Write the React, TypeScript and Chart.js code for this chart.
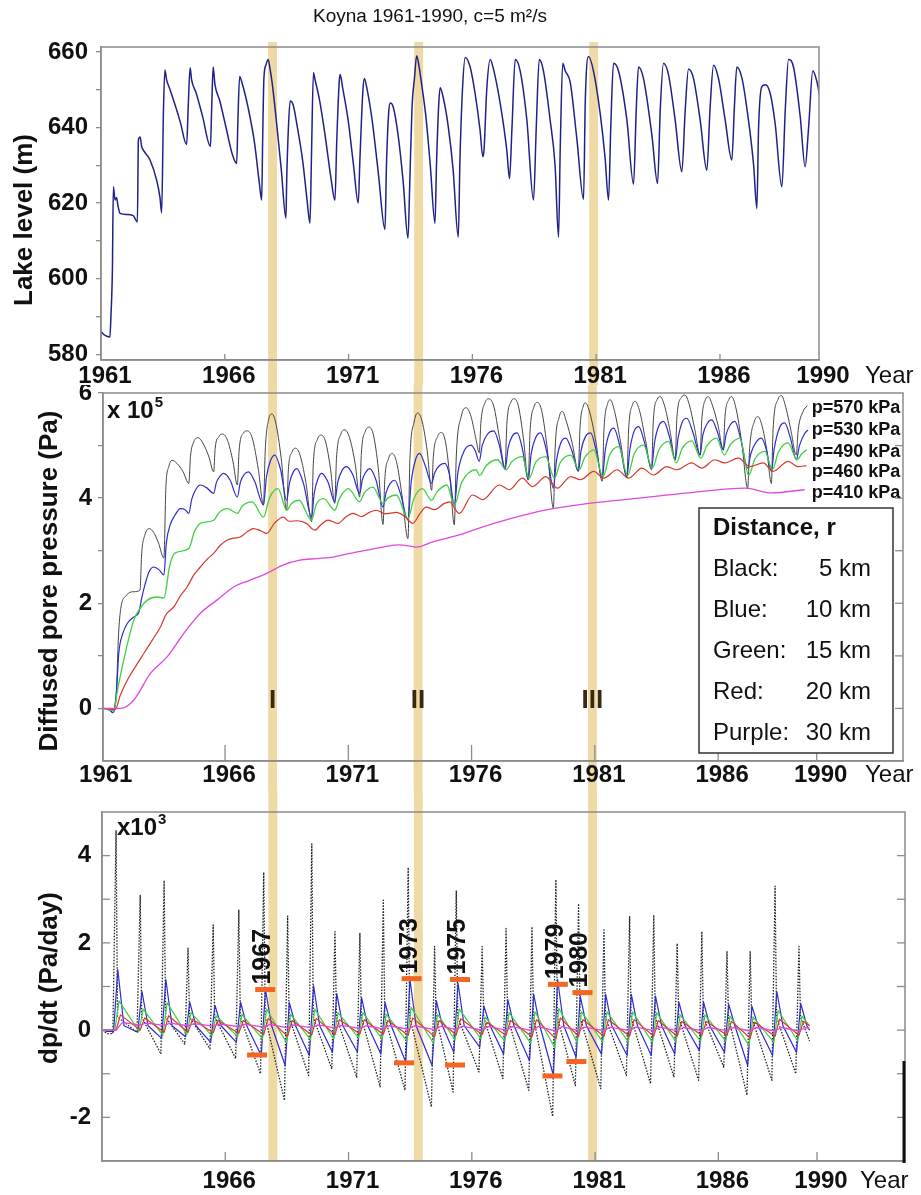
import React, { useEffect, useRef } from 'react';
import { Chart, registerables } from 'chart.js';

Chart.register(...registerables);

type Pt = [number, number];

// ---------------- text ----------------
const TITLE = 'Koyna 1961-1990, c=5 m\u00B2/s';
const lakeTitle = 'Lake level (m)';
const pressureTitle = 'Diffused pore pressure (Pa)';
const rateTitle = 'dp/dt (Pa/day)';
const yearWord = 'Year';

// ---------------- axes ----------------
const yearTicks = [1961, 1966, 1971, 1976, 1981, 1986, 1990];
const yearTicksBottom = [1966, 1971, 1976, 1981, 1986, 1990];
const lakeTicks = [580, 590, 600, 610, 620, 630, 640, 650, 660];
const lakeLabels = [580, 600, 620, 640, 660];
const pressureTicks = [0, 1, 2, 3, 4, 5, 6];
const pressureLabels = [0, 2, 4, 6];
const rateTicks = [-2, -1, 0, 1, 2, 3, 4];
const rateLabels = [-2, 0, 2, 4];

// ---------------- earthquake bands ----------------
const bandStart = [1967.75, 1973.65, 1980.72];
const bandEnd = [1968.11, 1974.01, 1981.08];
const bandNames = ['I', 'II', 'III'];
const bandNameValue = 0.15;

// ---------------- lake level (m) ----------------
const lakeLevel: Pt[] = [
  [1961.0, 586], [1961.16, 585], [1961.36, 584.6], [1961.4, 589.9], [1961.46, 602.3], [1961.5, 624.3], [1961.57, 620.8], [1961.63, 621.5], [1961.68, 619.5], [1961.77, 617.3], [1962.04, 617], [1962.3, 616.7], [1962.47, 615],
  [1962.51, 636.7], [1962.58, 637.5], [1962.64, 635], [1962.71, 634], [1962.98, 631.4], [1963.25, 626], [1963.38, 621.6], [1963.45, 617.4],
  [1963.52, 643.8], [1963.58, 655.2], [1963.65, 652.6], [1963.79, 650], [1963.99, 646], [1964.2, 641.5], [1964.46, 635.5],
  [1964.52, 645], [1964.6, 655.8], [1964.66, 652.6], [1964.85, 649], [1965.1, 643], [1965.42, 635],
  [1965.47, 645], [1965.53, 656], [1965.6, 651.5], [1965.8, 647], [1966.05, 640], [1966.3, 633], [1966.48, 630.5],
  [1966.53, 642], [1966.6, 653.5], [1966.7, 651.7], [1966.95, 645], [1967.2, 636], [1967.4, 625], [1967.49, 620.8],
  [1967.53, 637], [1967.58, 653], [1967.66, 656.5], [1967.75, 658], [1967.84, 655], [1967.92, 651.5], [1968.08, 642], [1968.28, 629], [1968.47, 616],
  [1968.5, 626], [1968.57, 640], [1968.64, 647], [1968.76, 646], [1968.92, 640.5], [1969.15, 631], [1969.32, 621], [1969.44, 614.7],
  [1969.5, 632], [1969.58, 654.5], [1969.65, 652.5], [1969.82, 647.5], [1970.05, 638], [1970.28, 627], [1970.45, 620.8],
  [1970.52, 636], [1970.62, 652], [1970.66, 654], [1970.76, 650.5], [1970.98, 642], [1971.2, 630], [1971.39, 620],
  [1971.46, 632], [1971.58, 650], [1971.64, 653], [1971.72, 651], [1971.95, 642], [1972.2, 628], [1972.47, 613],
  [1972.53, 630], [1972.62, 644], [1972.68, 646.5], [1972.8, 645.5], [1973.0, 638], [1973.2, 626], [1973.4, 610.7],
  [1973.47, 625], [1973.56, 645], [1973.66, 653], [1973.75, 659], [1973.85, 656], [1973.95, 651.5], [1974.12, 643], [1974.3, 630], [1974.49, 614.7],
  [1974.55, 630], [1974.64, 646], [1974.7, 650.5], [1974.82, 648], [1975.02, 640.5], [1975.22, 629], [1975.43, 611],
  [1975.5, 632], [1975.6, 650], [1975.71, 658.5], [1975.91, 656], [1976.11, 649], [1976.31, 639.3], [1976.42, 632.3], [1976.47, 634],
  [1976.58, 650], [1976.72, 658], [1976.85, 655.5], [1977.12, 646.5], [1977.39, 634], [1977.5, 626.5],
  [1977.6, 640], [1977.73, 658], [1977.93, 655], [1978.2, 642], [1978.47, 620.8],
  [1978.58, 640], [1978.7, 658], [1978.87, 655], [1979.14, 642], [1979.34, 630], [1979.48, 611],
  [1979.55, 635], [1979.65, 657], [1979.75, 655], [1979.95, 652], [1980.22, 637], [1980.49, 621],
  [1980.56, 647], [1980.69, 658.8], [1980.89, 655], [1981.16, 643.8], [1981.36, 632], [1981.5, 620.8],
  [1981.59, 640], [1981.7, 657], [1981.9, 655], [1982.24, 642], [1982.51, 625],
  [1982.62, 645], [1982.71, 656], [1982.91, 653], [1983.25, 638], [1983.48, 625.2],
  [1983.59, 645], [1983.72, 657], [1983.92, 654], [1984.19, 642], [1984.46, 628.3],
  [1984.6, 645], [1984.73, 655.5], [1984.93, 653], [1985.2, 642], [1985.47, 628.7],
  [1985.6, 645], [1985.74, 656.5], [1985.94, 653], [1986.21, 642], [1986.48, 631.4],
  [1986.58, 645], [1986.68, 656], [1986.89, 653], [1987.15, 642], [1987.36, 630], [1987.49, 618.6],
  [1987.56, 640], [1987.69, 650.8], [1987.83, 651.3], [1988.03, 649], [1988.23, 641], [1988.5, 624.3],
  [1988.64, 645], [1988.77, 658], [1988.97, 656], [1989.24, 643], [1989.44, 629.6],
  [1989.58, 640], [1989.75, 655], [1989.92, 652], [1990.02, 648.6],
];

// ---------------- diffused pore pressure (x 10^5 Pa) ----------------
const pressureBlack: Pt[] = [
  [1961.05, 0], [1961.3, -0.02], [1961.45, -0.08], [1961.58, 0.2], [1961.68, 1.4], [1961.77, 1.9], [1962.0, 2.15], [1962.3, 2.22], [1962.55, 2.25],
  [1962.62, 2.95], [1962.75, 3.3], [1962.92, 3.42], [1963.1, 3.35], [1963.3, 3.15], [1963.52, 2.86],
  [1963.6, 4.2], [1963.72, 4.6], [1963.85, 4.72], [1964.05, 4.66], [1964.3, 4.5], [1964.53, 4.28],
  [1964.6, 4.8], [1964.73, 5.07], [1964.9, 5.15], [1965.1, 5.05], [1965.35, 4.78], [1965.54, 4.5],
  [1965.6, 4.95], [1965.75, 5.17], [1965.9, 5.22], [1966.1, 5.1], [1966.32, 4.7], [1966.5, 4.25],
  [1966.57, 4.9], [1966.75, 5.24], [1966.9, 5.28], [1967.1, 5.15], [1967.35, 4.55], [1967.56, 3.87],
  [1967.63, 4.9], [1967.77, 5.5], [1967.9, 5.6], [1968.05, 5.45], [1968.28, 4.75], [1968.5, 3.77],
  [1968.57, 4.55], [1968.72, 4.88], [1968.85, 4.95], [1969.02, 4.85], [1969.28, 4.3], [1969.51, 3.55],
  [1969.58, 4.65], [1969.75, 5.12], [1969.9, 5.2], [1970.08, 5.07], [1970.28, 4.55], [1970.45, 3.9],
  [1970.52, 4.75], [1970.7, 5.22], [1970.86, 5.3], [1971.05, 5.15], [1971.28, 4.65], [1971.46, 4.02],
  [1971.53, 4.85], [1971.7, 5.28], [1971.85, 5.35], [1972.02, 5.2], [1972.22, 4.55], [1972.41, 3.5],
  [1972.48, 4.35], [1972.63, 4.75], [1972.78, 4.85], [1972.95, 4.7], [1973.18, 4.05], [1973.42, 3.23],
  [1973.5, 4.75], [1973.67, 5.45], [1973.82, 5.62], [1974.0, 5.45], [1974.2, 4.9], [1974.38, 4.15],
  [1974.45, 4.8], [1974.62, 5.17], [1974.78, 5.25], [1974.95, 5.05], [1975.13, 4.35], [1975.3, 3.49],
  [1975.38, 4.8], [1975.58, 5.55], [1975.78, 5.72], [1975.98, 5.55], [1976.18, 5.12], [1976.31, 4.86],
  [1976.38, 5.45], [1976.55, 5.82], [1976.7, 5.89], [1976.9, 5.75], [1977.13, 5.15], [1977.36, 4.57],
  [1977.43, 5.4], [1977.6, 5.83], [1977.73, 5.89], [1977.9, 5.75], [1978.1, 5.15], [1978.3, 4.35],
  [1978.37, 5.25], [1978.54, 5.75], [1978.67, 5.82], [1978.85, 5.65], [1979.08, 4.9], [1979.32, 3.81],
  [1979.39, 4.95], [1979.56, 5.55], [1979.68, 5.65], [1979.85, 5.45], [1980.08, 5.05], [1980.33, 4.52],
  [1980.4, 5.35], [1980.53, 5.75], [1980.62, 5.81], [1980.8, 5.62], [1981.05, 5.05], [1981.3, 4.32],
  [1981.37, 5.3], [1981.52, 5.8], [1981.63, 5.87], [1981.8, 5.65], [1982.05, 5.05], [1982.3, 4.38],
  [1982.37, 5.3], [1982.53, 5.78], [1982.64, 5.84], [1982.82, 5.65], [1983.05, 5.12], [1983.3, 4.54],
  [1983.37, 5.45], [1983.53, 5.88], [1983.65, 5.93], [1983.82, 5.77], [1984.05, 5.28], [1984.26, 4.73],
  [1984.33, 5.55], [1984.52, 5.92], [1984.66, 5.96], [1984.83, 5.78], [1985.05, 5.32], [1985.27, 4.82],
  [1985.34, 5.5], [1985.49, 5.88], [1985.6, 5.93], [1985.78, 5.75], [1986.0, 5.38], [1986.21, 4.92],
  [1986.28, 5.55], [1986.44, 5.88], [1986.55, 5.93], [1986.72, 5.72], [1986.96, 5.05], [1987.2, 4.19],
  [1987.28, 4.95], [1987.48, 5.47], [1987.62, 5.55], [1987.78, 5.38], [1987.98, 4.9], [1988.16, 4.28],
  [1988.23, 5.3], [1988.43, 5.88], [1988.57, 5.95], [1988.75, 5.72], [1988.95, 5.3], [1989.17, 4.82],
  [1989.25, 5.3], [1989.45, 5.65], [1989.62, 5.76],
];

const pressureBlue: Pt[] = [
  [1961.05, 0], [1961.3, -0.02], [1961.45, -0.08], [1961.6, 0.35], [1961.69, 1.05], [1961.85, 1.42], [1962.04, 1.62], [1962.3, 1.74], [1962.5, 1.82],
  [1962.62, 2.1], [1962.75, 2.35], [1962.92, 2.6], [1963.11, 2.69], [1963.32, 2.64], [1963.52, 2.54],
  [1963.62, 3.15], [1963.78, 3.5], [1963.95, 3.66], [1964.19, 3.8], [1964.38, 3.78], [1964.53, 3.71],
  [1964.65, 3.98], [1964.82, 4.17], [1965.0, 4.25], [1965.25, 4.2], [1965.54, 4.09],
  [1965.65, 4.3], [1965.8, 4.42], [1965.94, 4.47], [1966.2, 4.35], [1966.5, 4.02],
  [1966.62, 4.3], [1966.78, 4.45], [1966.95, 4.5], [1967.2, 4.32], [1967.56, 3.87],
  [1967.68, 4.4], [1967.85, 4.72], [1968.02, 4.82], [1968.25, 4.55], [1968.5, 3.96],
  [1968.62, 4.3], [1968.77, 4.5], [1968.91, 4.56], [1969.18, 4.28], [1969.51, 3.64],
  [1969.62, 4.1], [1969.78, 4.38], [1969.92, 4.47], [1970.18, 4.3], [1970.45, 3.93],
  [1970.57, 4.3], [1970.75, 4.53], [1970.93, 4.6], [1971.18, 4.45], [1971.46, 4.09],
  [1971.57, 4.35], [1971.72, 4.5], [1971.87, 4.56], [1972.12, 4.35], [1972.41, 3.83],
  [1972.53, 4.1], [1972.7, 4.28], [1972.88, 4.34], [1973.12, 4.08], [1973.42, 3.58],
  [1973.55, 4.3], [1973.72, 4.72], [1973.89, 4.85], [1974.12, 4.62], [1974.38, 4.28],
  [1974.5, 4.48], [1974.7, 4.62], [1974.92, 4.66], [1975.1, 4.45], [1975.3, 3.87],
  [1975.45, 4.5], [1975.7, 4.9], [1975.98, 5.01], [1976.15, 4.9], [1976.31, 4.7],
  [1976.43, 5.0], [1976.65, 5.22], [1976.9, 5.28], [1977.12, 5.02], [1977.36, 4.54],
  [1977.48, 4.95], [1977.65, 5.18], [1977.85, 5.24], [1978.07, 4.92], [1978.3, 4.35],
  [1978.42, 4.85], [1978.6, 5.15], [1978.8, 5.24], [1979.05, 4.88], [1979.32, 4.19],
  [1979.44, 4.7], [1979.62, 5.05], [1979.82, 5.14], [1980.07, 4.9], [1980.33, 4.51],
  [1980.44, 4.9], [1980.62, 5.17], [1980.83, 5.24], [1981.05, 4.92], [1981.3, 4.38],
  [1981.42, 4.9], [1981.6, 5.25], [1981.77, 5.33], [1982.02, 4.98], [1982.3, 4.41],
  [1982.42, 4.92], [1982.6, 5.28], [1982.78, 5.36], [1983.02, 5.05], [1983.3, 4.57],
  [1983.42, 5.05], [1983.6, 5.38], [1983.79, 5.46], [1984.02, 5.18], [1984.26, 4.73],
  [1984.38, 5.15], [1984.55, 5.45], [1984.73, 5.52], [1984.98, 5.25], [1985.27, 4.82],
  [1985.38, 5.2], [1985.56, 5.42], [1985.74, 5.49], [1985.98, 5.25], [1986.21, 4.92],
  [1986.32, 5.2], [1986.5, 5.4], [1986.68, 5.46], [1986.93, 5.1], [1987.2, 4.57],
  [1987.33, 4.85], [1987.55, 5.07], [1987.76, 5.14], [1987.97, 4.9], [1988.16, 4.51],
  [1988.28, 4.95], [1988.5, 5.35], [1988.7, 5.43], [1988.93, 5.15], [1989.17, 4.73],
  [1989.3, 5.0], [1989.5, 5.22], [1989.65, 5.3],
];

const pressureGreen: Pt[] = [
  [1961.05, 0], [1961.5, -0.04], [1961.62, 0.3], [1961.83, 0.79], [1962.3, 1.68], [1962.55, 1.9], [1962.85, 2.06], [1963.25, 2.12], [1963.52, 2.1],
  [1963.75, 2.7], [1963.95, 2.95], [1964.53, 3.04], [1964.75, 3.35], [1965.0, 3.52], [1965.54, 3.58], [1965.75, 3.72], [1966.1, 3.8], [1966.5, 3.71],
  [1966.7, 3.85], [1967.1, 3.93], [1967.56, 3.64], [1967.8, 4.0], [1968.15, 4.18], [1968.5, 3.77], [1968.7, 3.9], [1969.0, 3.96], [1969.51, 3.58],
  [1969.7, 3.88], [1970.0, 3.99], [1970.45, 3.77], [1970.65, 4.0], [1971.0, 4.18], [1971.46, 3.93], [1971.65, 4.1], [1972.0, 4.21], [1972.41, 3.9],
  [1972.6, 4.0], [1972.95, 4.06], [1973.42, 3.61], [1973.65, 3.98], [1974.0, 4.18], [1974.38, 3.96], [1974.6, 4.12], [1975.0, 4.25], [1975.3, 3.87],
  [1975.6, 4.3], [1976.18, 4.54], [1976.33, 4.43], [1976.6, 4.62], [1977.05, 4.73], [1977.4, 4.54], [1977.65, 4.7], [1978.06, 4.79], [1978.33, 4.37],
  [1978.6, 4.68], [1979.01, 4.79], [1979.36, 4.38], [1979.6, 4.68], [1980.02, 4.82], [1980.36, 4.54], [1980.6, 4.78], [1980.96, 4.92], [1981.33, 4.41],
  [1981.6, 4.82], [1981.97, 4.98], [1982.33, 4.43], [1982.6, 4.85], [1982.98, 5.01], [1983.33, 4.57], [1983.6, 4.92], [1983.99, 5.08], [1984.3, 4.67],
  [1984.55, 4.95], [1984.93, 5.09], [1985.3, 4.76], [1985.55, 5.0], [1985.94, 5.14], [1986.25, 4.82], [1986.5, 5.02], [1986.89, 5.14], [1987.24, 4.43],
  [1987.5, 4.75], [1987.9, 4.89], [1988.2, 4.54], [1988.45, 4.88], [1988.84, 5.05], [1989.2, 4.73], [1989.4, 4.85], [1989.6, 4.92],
];

const pressureRed: Pt[] = [
  [1961.05, 0], [1961.55, -0.02], [1961.75, 0.25], [1962.04, 0.54], [1962.4, 0.82], [1962.71, 1.05], [1963.05, 1.3], [1963.38, 1.55], [1963.6, 1.78],
  [1963.92, 1.93], [1964.2, 2.15], [1964.46, 2.31], [1964.75, 2.55], [1965.0, 2.69], [1965.3, 2.85], [1965.54, 2.95], [1965.8, 3.1], [1966.08, 3.2],
  [1966.35, 3.24], [1966.62, 3.26], [1966.9, 3.36], [1967.15, 3.42], [1967.45, 3.38], [1967.69, 3.33], [1968.0, 3.52], [1968.36, 3.64], [1968.6, 3.56],
  [1968.95, 3.57], [1969.3, 3.52], [1969.64, 3.39], [1969.9, 3.5], [1970.18, 3.58], [1970.58, 3.52], [1970.9, 3.64], [1971.19, 3.71], [1971.55, 3.65],
  [1971.85, 3.73], [1972.14, 3.77], [1972.5, 3.7], [1972.95, 3.73], [1973.3, 3.65], [1973.61, 3.52], [1973.9, 3.7], [1974.15, 3.83], [1974.5, 3.78],
  [1974.9, 3.9], [1975.1, 3.93], [1975.5, 3.71], [1976.04, 4.06], [1976.45, 3.97], [1977.12, 4.25], [1977.53, 4.16], [1978.06, 4.38], [1978.47, 4.22],
  [1979.01, 4.41], [1979.48, 4.19], [1980.02, 4.41], [1980.42, 4.35], [1980.96, 4.51], [1981.36, 4.38], [1981.9, 4.54], [1982.37, 4.38], [1982.91, 4.57],
  [1983.38, 4.44], [1983.92, 4.6], [1984.33, 4.54], [1984.93, 4.67], [1985.33, 4.57], [1985.87, 4.73], [1986.28, 4.67], [1986.82, 4.76], [1987.29, 4.6],
  [1987.83, 4.67], [1988.23, 4.51], [1988.84, 4.7], [1989.24, 4.6], [1989.58, 4.62],
];

const pressurePurple: Pt[] = [
  [1961.05, 0], [1961.77, 0], [1962.3, 0.16], [1962.98, 0.67], [1963.65, 0.98], [1964.33, 1.43], [1965.0, 1.81], [1965.67, 2.06], [1966.35, 2.31],
  [1967.02, 2.44], [1967.69, 2.57], [1968.37, 2.73], [1969.04, 2.82], [1969.72, 2.85], [1970.39, 2.88], [1971.06, 2.95], [1971.74, 3.01],
  [1972.41, 3.07], [1973.08, 3.11], [1973.76, 3.07], [1974.43, 3.17], [1975.5, 3.3], [1976.31, 3.43], [1977.5, 3.6], [1978.74, 3.75],
  [1980.76, 3.9], [1982.78, 4.0], [1984.8, 4.1], [1987.09, 4.19], [1988.16, 4.1], [1989.51, 4.16],
];

const pLabels = ['p=570 kPa', 'p=530 kPa', 'p=490 kPa', 'p=460 kPa', 'p=410 kPa'];
const pLabelValues = [5.72, 5.3, 4.88, 4.5, 4.1];
const pLabelYear = 1989.8;

const legendTitle = 'Distance, r';
const legendNames = ['Black:', 'Blue:', 'Green:', 'Red:', 'Purple:'];
const legendDistances = ['5 km', '10 km', '15 km', '20 km', '30 km'];

// ---------------- dp/dt (x 10^3 Pa/day) ----------------
const riseYears = [1961.57, 1962.55, 1963.52, 1964.49, 1965.51, 1966.55, 1967.56, 1968.53, 1969.51, 1970.45, 1971.46, 1972.41, 1973.42, 1974.49, 1975.37,
  1976.42, 1977.39, 1978.44, 1979.41, 1980.33, 1981.36, 1982.4, 1983.38, 1984.33, 1985.33, 1986.35, 1987.29, 1988.3, 1989.27];
const ratePeakBlack = [4.57, 3.09, 3.43, 1.88, 2.41, 2.75, 3.62, 2.61, 4.27, 2.26, 2.22, 2.98, 3.73, 1.92, 3.2, 1.92, 2.33, 2.37, 3.45, 2.9, 2.3, 2.6, 2.64, 1.99, 2.26, 1.8, 1.8, 3.3, 1.92];
const rateTroughBlack = [-0.05, -0.55, -0.32, -0.43, -0.65, -1.0, -1.61, -1.04, -0.89, -1.08, -1.3, -1.38, -1.76, -1.42, -0.96, -1.11, -1.38, -1.98, -1.27, -1.34, -1.04, -1.23, -1.08, -1.15, -0.85, -1.49, -1.15, -1.0];
const ratePeakBlue = [1.39, 0.89, 1.16, 0.64, 0.57, 0.64, 0.93, 0.63, 1.02, 0.84, 0.74, 0.63, 1.16, 0.67, 1.08, 0.55, 0.7, 0.82, 1.16, 0.78, 0.82, 0.82, 0.78, 0.64, 0.64, 0.59, 0.55, 0.89, 0.61];
const rateTroughBlue = [-0.05, -0.19, -0.15, -0.28, -0.28, -0.58, -0.81, -0.58, -0.51, -0.5, -0.55, -0.73, -0.81, -0.51, -0.39, -0.55, -0.7, -1.04, -0.62, -0.55, -0.58, -0.58, -0.55, -0.47, -0.51, -0.81, -0.58, -0.51];
const ratePeakGreen = [0.67, 0.48, 0.63, 0.4, 0.33, 0.36, 0.48, 0.36, 0.48, 0.4, 0.4, 0.36, 0.52, 0.36, 0.48, 0.3, 0.4, 0.42, 0.5, 0.42, 0.42, 0.42, 0.4, 0.35, 0.35, 0.32, 0.3, 0.45, 0.32];
const rateTroughGreen = [-0.03, -0.12, -0.1, -0.13, -0.15, -0.2, -0.28, -0.22, -0.2, -0.18, -0.2, -0.25, -0.3, -0.22, -0.2, -0.25, -0.3, -0.4, -0.28, -0.27, -0.27, -0.28, -0.27, -0.25, -0.25, -0.35, -0.28, -0.25];
const ratePeakRed = [0.35, 0.28, 0.33, 0.25, 0.22, 0.22, 0.27, 0.22, 0.27, 0.24, 0.24, 0.22, 0.28, 0.22, 0.26, 0.18, 0.22, 0.24, 0.28, 0.24, 0.24, 0.24, 0.22, 0.2, 0.2, 0.2, 0.18, 0.25, 0.2];
const rateTroughRed = [0.0, -0.05, -0.05, -0.06, -0.07, -0.1, -0.14, -0.11, -0.1, -0.09, -0.1, -0.12, -0.15, -0.11, -0.1, -0.12, -0.15, -0.2, -0.14, -0.14, -0.14, -0.14, -0.14, -0.12, -0.12, -0.18, -0.14, -0.12];
const ratePeakPurple = [0.17, 0.16, 0.16, 0.15, 0.14, 0.13, 0.13, 0.12, 0.12, 0.11, 0.1, 0.1, 0.1, 0.09, 0.09, 0.08, 0.08, 0.08, 0.08, 0.07, 0.07, 0.07, 0.07, 0.06, 0.06, 0.06, 0.06, 0.06, 0.06];
const rateTroughPurple = [0.12, 0.11, 0.1, 0.09, 0.08, 0.07, 0.05, 0.05, 0.05, 0.04, 0.03, 0.02, 0.01, 0.01, 0.0, 0.0, -0.01, -0.02, -0.01, -0.01, -0.01, -0.01, -0.01, -0.01, -0.01, -0.02, -0.02, -0.02];
// timing: [trough lead before rise, peak lag after rise] (years)
const rateTiming = { black: [0.13, 0], blue: [0.1, 0.07], green: [0.05, 0.12], red: [0.0, 0.18], purple: [0.0, 0.25] };
// quick fall right after the peak: [years after peak, value]
const rateKneeBlack: Pt = [0.06, 0.3];
const rateKneeBlue: Pt = [0.25, 0.1];
const rateEndYear = 1989.7;
const rateEnd = { black: -0.25, blue: 0.0, green: 0.1, red: 0.1, purple: 0.04 };

// orange markers and year labels
const markYears = ['1967', '1973', '1975', '1979', '1980'];
const markUpperX = [1967.62, 1973.56, 1975.52, 1979.49, 1980.49];
const markUpperY = [0.93, 1.18, 1.16, 1.05, 0.86];
const markLowerX = [1967.29, 1973.25, 1975.32, 1979.27, 1980.24];
const markLowerY = [-0.57, -0.75, -0.8, -1.05, -0.72];

// ---------------- styles ----------------
const FONT = '"Liberation Sans", Arial, Helvetica, sans-serif';
const NARROW = '"Liberation Sans Narrow", "Arial Narrow", "Liberation Sans", Arial, sans-serif';
const AXIS = '#8c8c8c';
const INK = '#111111';
const BAND = '#efd9a5';
const ORANGE = '#f26522';
const ROMAN = '#3b2812';
const TICK_FONT = { family: FONT, size: 24, weight: 'bold', lineHeight: 1 };
const W = 921;

const toXY = (pts: Pt[]) => pts.map(([x, y]) => ({ x, y }));

function buildRate(peaks: number[], troughs: number[], timing: number[], knee: Pt | null, endV: number, startV: number): Pt[] {
  const pts: Pt[] = [[1961.02, 0], [1961.2, startV]];
  riseYears.forEach((t, i) => {
    pts.push([t - timing[0], i === 0 ? startV : troughs[i - 1]]);
    pts.push([t + timing[1], peaks[i]]);
    if (knee) pts.push([t + timing[1] + knee[0], knee[1]]);
  });
  pts.push([rateEndYear, endV]);
  return pts;
}

function zeroPad(s: any) {
  s.paddingTop = 0; s.paddingBottom = 0; s.paddingLeft = 0; s.paddingRight = 0;
}

function makeOptions(c: any) {
  return {
    responsive: false,
    maintainAspectRatio: false,
    animation: false,
    events: [],
    layout: { padding: c.padding },
    plugins: { legend: { display: false }, tooltip: { enabled: false }, title: { display: false } },
    elements: { point: { radius: 0, hoverRadius: 0 }, line: { tension: 0, borderJoinStyle: 'round' } },
    scales: {
      x: {
        type: 'linear', min: c.xMin, max: c.xMax,
        afterBuildTicks: (s: any) => { s.ticks = c.xTicks.map((v: number) => ({ value: v })); },
        afterFit: (s: any) => { s.height = c.xHeight; zeroPad(s); },
        ticks: { autoSkip: false, maxRotation: 0, minRotation: 0, padding: c.xPad, labelOffset: 4, color: INK, font: TICK_FONT, callback: (v: number) => String(v) },
        grid: { drawOnChartArea: false, drawTicks: false, color: AXIS },
        border: { color: AXIS, width: 1.5 },
      },
      y: {
        type: 'linear', min: c.yMin, max: c.yMax,
        afterBuildTicks: (s: any) => { s.ticks = c.yTicks.map((v: number) => ({ value: v })); },
        afterFit: (s: any) => { s.width = c.yWidth; zeroPad(s); },
        ticks: { padding: c.yPad, color: INK, font: TICK_FONT, callback: (v: number) => (c.yLabels.includes(v) ? String(v) : '') },
        grid: { drawOnChartArea: false, drawTicks: c.yOut, tickLength: 5, color: AXIS, lineWidth: 1.3 },
        border: { color: AXIS, width: 1.5 },
      },
    },
  };
}

// ---------------- drawing helpers ----------------
function drawBands(chart: any, y0: number, y1: number) {
  const { ctx } = chart;
  const x = chart.scales.x;
  ctx.save();
  ctx.fillStyle = BAND;
  bandStart.forEach((s, i) => {
    const a = x.getPixelForValue(s);
    const b = x.getPixelForValue(bandEnd[i]);
    ctx.fillRect(a, y0, b - a, y1 - y0);
  });
  ctx.restore();
}
function drawBox(ctx: any, a: any) {
  ctx.strokeStyle = AXIS; ctx.lineWidth = 1.5;
  ctx.strokeRect(a.left, a.top, a.right - a.left, a.bottom - a.top);
}
function upTicks(ctx: any, x: any, a: any, years: number[], len: number) {
  ctx.strokeStyle = AXIS; ctx.lineWidth = 1.3;
  years.forEach((v) => {
    const px = x.getPixelForValue(v);
    ctx.beginPath(); ctx.moveTo(px, a.bottom); ctx.lineTo(px, a.bottom - len); ctx.stroke();
  });
}
function sideTicks(ctx: any, y: any, x0: number, values: number[], len: number) {
  ctx.strokeStyle = AXIS; ctx.lineWidth = 1.3;
  values.forEach((v) => {
    const py = y.getPixelForValue(v);
    ctx.beginPath(); ctx.moveTo(x0, py); ctx.lineTo(x0 + len, py); ctx.stroke();
  });
}
function rotatedText(ctx: any, text: string, cx: number, cy: number, font: string, align = 'center') {
  ctx.save();
  ctx.translate(cx, cy); ctx.rotate(-Math.PI / 2);
  ctx.font = font; ctx.fillStyle = INK; ctx.textAlign = align; ctx.textBaseline = 'middle';
  ctx.fillText(text, 0, 0);
  ctx.restore();
}
function superText(ctx: any, base: string, sup: string, x: number, y: number) {
  ctx.fillStyle = INK; ctx.textAlign = 'left'; ctx.textBaseline = 'middle';
  ctx.font = `bold 24px ${FONT}`;
  ctx.fillText(base, x, y);
  const w = ctx.measureText(base).width;
  ctx.font = `bold 15px ${FONT}`;
  ctx.fillText(sup, x + w + 1, y - 8);
}
function yearWordAt(ctx: any, x: number, y: number) {
  ctx.fillStyle = INK; ctx.font = `24px ${FONT}`; ctx.textAlign = 'left'; ctx.textBaseline = 'middle';
  ctx.fillText(yearWord, x, y);
}

// ---------------- plugins ----------------
const topPlugin = {
  id: 'topOverlay',
  beforeDraw(chart: any) { drawBands(chart, 42, chart.height); },
  afterDraw(chart: any) {
    const { ctx, chartArea: a, scales: { x } } = chart;
    ctx.save();
    drawBox(ctx, a);
    upTicks(ctx, x, a, yearTicks.slice(1, -1), 6);
    ctx.fillStyle = INK; ctx.font = `19px ${NARROW}`; ctx.textAlign = 'center'; ctx.textBaseline = 'middle';
    ctx.fillText(TITLE, 430, 17);
    yearWordAt(ctx, 865, 376);
    rotatedText(ctx, lakeTitle, 25, 220, `bold 26px ${FONT}`);
    ctx.restore();
  },
};

const midPlugin = {
  id: 'midOverlay',
  beforeDraw(chart: any) { drawBands(chart, 0, chart.height); },
  afterDraw(chart: any) {
    const { ctx, chartArea: a, scales: { x, y } } = chart;
    ctx.save();
    drawBox(ctx, a);
    upTicks(ctx, x, a, yearTicks.slice(1), 16);
    sideTicks(ctx, y, a.right, pressureTicks.slice(0, -1), -8);
    superText(ctx, 'x 10', '5', a.left + 4, a.top + 18);
    // roman numerals at the bands
    ctx.fillStyle = ROMAN; ctx.font = `bold 26px ${FONT}`; ctx.textAlign = 'center'; ctx.textBaseline = 'middle';
    bandNames.forEach((n, i) => {
      ctx.fillText(n, x.getPixelForValue((bandStart[i] + bandEnd[i]) / 2), y.getPixelForValue(bandNameValue));
    });
    // end-of-curve pressure labels
    ctx.fillStyle = INK; ctx.font = `bold 18px ${FONT}`; ctx.textAlign = 'left';
    pLabels.forEach((t, i) => ctx.fillText(t, x.getPixelForValue(pLabelYear), y.getPixelForValue(pLabelValues[i])));
    // distance box
    const bx = a.right - 204, by = a.bottom - 253, bw = 194, bh = 245;
    ctx.fillStyle = '#ffffff'; ctx.fillRect(bx, by, bw, bh);
    ctx.strokeStyle = '#333333'; ctx.lineWidth = 1.5; ctx.strokeRect(bx, by, bw, bh);
    ctx.fillStyle = INK; ctx.textBaseline = 'middle';
    ctx.font = `bold 24px ${FONT}`; ctx.textAlign = 'left';
    ctx.fillText(legendTitle, bx + 14, by + 20);
    ctx.font = `24px ${FONT}`;
    legendNames.forEach((n, i) => {
      const ty = by + 61 + i * 41.2;
      ctx.textAlign = 'left'; ctx.fillText(n, bx + 14, ty);
      ctx.textAlign = 'right'; ctx.fillText(legendDistances[i], bx + 172, ty);
    });
    yearWordAt(ctx, 865, 390);
    rotatedText(ctx, pressureTitle, 50, 196, `bold 26px ${FONT}`);
    ctx.restore();
  },
};

const botPlugin = {
  id: 'botOverlay',
  beforeDraw(chart: any) { drawBands(chart, 0, chart.chartArea.bottom); },
  afterDraw(chart: any) {
    const { ctx, chartArea: a, scales: { x, y } } = chart;
    ctx.save();
    drawBox(ctx, a);
    upTicks(ctx, x, a, yearTicksBottom, 9);
    sideTicks(ctx, y, a.left, rateTicks, 8);
    sideTicks(ctx, y, a.right, rateTicks, -8);
    superText(ctx, 'x10', '3', a.left + 15, a.top + 16);
    // orange bars
    ctx.fillStyle = ORANGE;
    markYears.forEach((_, i) => {
      ctx.fillRect(x.getPixelForValue(markUpperX[i]) - 10, y.getPixelForValue(markUpperY[i]) - 2.5, 20, 5);
      ctx.fillRect(x.getPixelForValue(markLowerX[i]) - 10, y.getPixelForValue(markLowerY[i]) - 2.5, 20, 5);
    });
    markYears.forEach((t, i) => {
      rotatedText(ctx, t, x.getPixelForValue(markUpperX[i]) - 2, y.getPixelForValue(markUpperY[i]) - 5, `bold 25px ${FONT}`, 'left');
    });
    // dark edge on right axis
    ctx.strokeStyle = '#111111'; ctx.lineWidth = 3;
    ctx.beginPath(); ctx.moveTo(a.right - 1, a.bottom - 100); ctx.lineTo(a.right - 1, a.bottom + 2); ctx.stroke();
    yearWordAt(ctx, 860, 391);
    rotatedText(ctx, rateTitle, 50, 188, `bold 26px ${FONT}`);
    ctx.restore();
  },
};

// ---------------- configs ----------------
function topConfig(): any {
  return {
    type: 'line',
    data: { datasets: [{ data: toXY(lakeLevel), borderColor: '#1f2188', borderWidth: 1.5, fill: false, cubicInterpolationMode: 'monotone' }] },
    options: makeOptions({
      padding: { left: 0, right: W - 819, top: 47, bottom: 0 },
      xMin: 1961, xMax: 1990, xTicks: yearTicks, xHeight: 25, xPad: 4,
      yMin: 578.5, yMax: 661.3, yTicks: lakeTicks, yLabels: lakeLabels, yWidth: 101, yPad: 8, yOut: true,
    }),
    plugins: [topPlugin],
  };
}

function midConfig(): any {
  const ds = (pts: Pt[], color: string, w: number) => ({ data: toXY(pts), borderColor: color, borderWidth: w, fill: false, cubicInterpolationMode: 'monotone' });
  return {
    type: 'line',
    data: {
      datasets: [
        ds(pressurePurple, '#e048e0', 1.3),
        ds(pressureRed, '#d8372a', 1.2),
        ds(pressureGreen, '#3fd03f', 1.3),
        ds(pressureBlue, '#2c2ccf', 1.2),
        ds(pressureBlack, '#444444', 1.0),
      ],
    },
    options: makeOptions({
      padding: { left: 0, right: W - 903, top: 8, bottom: 0 },
      xMin: 1961.05, xMax: 1993.5, xTicks: yearTicks, xHeight: 29, xPad: 2,
      yMin: -1, yMax: 6, yTicks: pressureTicks, yLabels: pressureLabels, yWidth: 103, yPad: 6, yOut: true,
    }),
    plugins: [midPlugin],
  };
}

function botConfig(): any {
  const ds = (pts: Pt[], color: string, w: number, dash: number[] = []) => ({ data: toXY(pts), borderColor: color, borderWidth: w, borderDash: dash, fill: false });
  return {
    type: 'line',
    data: {
      datasets: [
        ds(buildRate(ratePeakPurple, rateTroughPurple, rateTiming.purple, null, rateEnd.purple, 0), '#e048e0', 1.3),
        ds(buildRate(ratePeakRed, rateTroughRed, rateTiming.red, null, rateEnd.red, 0), '#e0352a', 1.2),
        ds(buildRate(ratePeakGreen, rateTroughGreen, rateTiming.green, null, rateEnd.green, 0), '#3fd03f', 1.2),
        ds(buildRate(ratePeakBlue, rateTroughBlue, rateTiming.blue, rateKneeBlue, rateEnd.blue, -0.03), '#2c2ccf', 1.2),
        ds(buildRate(ratePeakBlack, rateTroughBlack, rateTiming.black, rateKneeBlack, rateEnd.black, -0.08), '#222222', 1.3, [1.5, 1.5]),
      ],
    },
    options: makeOptions({
      padding: { left: 0, right: W - 905, top: 22, bottom: 0 },
      xMin: 1961.0, xMax: 1993.57, xTicks: yearTicksBottom, xHeight: 34, xPad: 8,
      yMin: -3, yMax: 5, yTicks: rateTicks, yLabels: rateLabels, yWidth: 102, yPad: 11, yOut: false,
    }),
    plugins: [botPlugin],
  };
}

function Panel({ make, top, height }: { make: () => any; top: number; height: number }) {
  const ref = useRef<HTMLCanvasElement | null>(null);
  useEffect(() => {
    if (!ref.current) return;
    const chart = new Chart(ref.current, make());
    return () => chart.destroy();
  }, []);
  return <canvas ref={ref} width={W} height={height} style={{ position: 'absolute', left: 0, top, width: W, height, display: 'block' }} />;
}

export default function App() {
  return (
    <div style={{ position: 'absolute', left: 0, top: 0, width: W, height: 1195, background: '#ffffff', overflow: 'hidden' }}>
      <Panel make={topConfig} top={0} height={385} />
      <Panel make={midConfig} top={385} height={405} />
      <Panel make={botConfig} top={790} height={405} />
    </div>
  );
}
